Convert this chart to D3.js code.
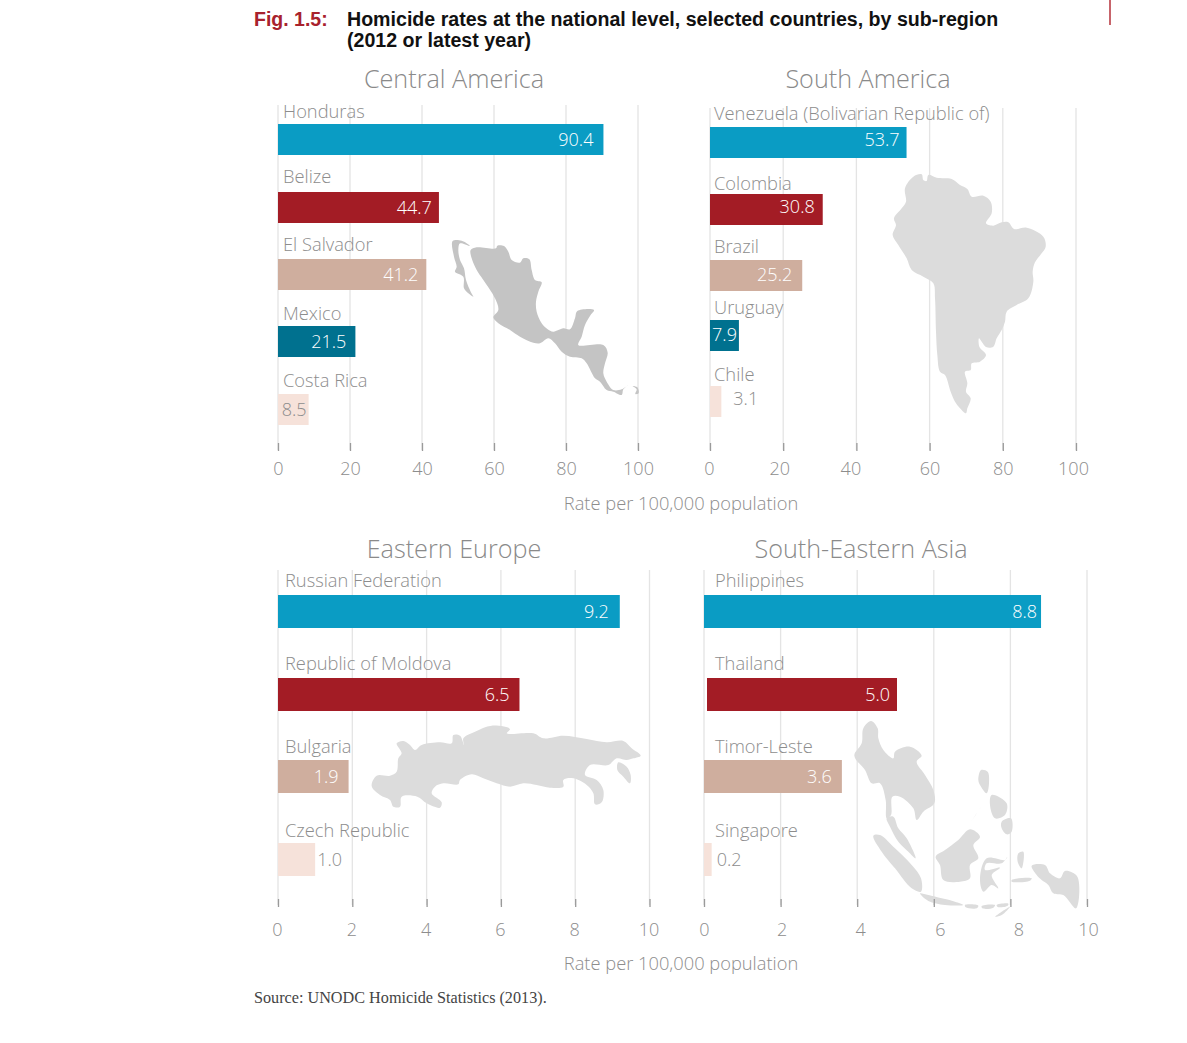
<!DOCTYPE html>
<html><head><meta charset="utf-8">
<script src="https://cdn.jsdelivr.net/npm/d3@7/dist/d3.min.js"></script>
<style>html,body{margin:0;padding:0;background:#fff}svg{display:block}</style>
</head><body><svg id="c" width="1187" height="1043"></svg>
<script>
// ---- data ----
const centralAmericaCountries = ["Honduras","Belize","El Salvador","Mexico","Costa Rica"];
const centralAmericaValues = [90.4,44.7,41.2,21.5,8.5];
const southAmericaCountries = ["Venezuela (Bolivarian Republic of)","Colombia","Brazil","Uruguay","Chile"];
const southAmericaValues = [53.7,30.8,25.2,7.9,3.1];
const easternEuropeCountries = ["Russian Federation","Republic of Moldova","Bulgaria","Czech Republic"];
const easternEuropeValues = [9.2,6.5,1.9,1.0];
const seAsiaCountries = ["Philippines","Thailand","Timor-Leste","Singapore"];
const seAsiaValues = [8.8,5.0,3.6,0.2];
const ticksWide = [0,20,40,60,80,100];
const ticksNarrow = [0,2,4,6,8,10];

// ---- style ----
const BLUE="#0a9cc4",RED="#a31c25",TAN="#cfae9e",TEAL="#00718f",PALE="#f6e2da";
const GREY="#8d8d8d",FONT="'Open Sans',sans-serif";
const svg=d3.select("#c");

// ---- panel layout ----
const panels=[
 {title:"Central America",tx:454,ty:88,names:centralAmericaCountries,vals:centralAmericaValues,ticks:ticksWide,
  range:[278,638],tops:[124,192,259,326,394],h:31,cols:[BLUE,RED,TAN,TEAL,PALE],
  labelUp:[6,9,8,6,7],gap:[-10,-7,-8,-9,-2],valShift:[0,0,0,0,0],labelX:5,valCol:["#fff","#fff","#fff","#fff",GREY],
  grid:[105,450],axisY:443,pad:11,nudge:[0,0,0,0,0,0],mapFill:"#c4c4c4"},
 {title:"South America",tx:868,ty:88,names:southAmericaCountries,vals:southAmericaValues,ticks:ticksWide,
  range:[710,1076],tops:[127,194,260,320,386],h:31,cols:[BLUE,RED,TAN,TEAL,PALE],
  labelUp:[7,4,7,6,5],gap:[-7,-8,-10,-2,12],valShift:[-3,-3,-1,-1,-3],labelX:4,valCol:["#fff","#fff","#fff","#fff",GREY],
  grid:[108,450],axisY:443,pad:11,nudge:[-1,-4,-6,0,0,-3],mapFill:"#dcdcdc"},
 {title:"Eastern Europe",tx:454,ty:558,names:easternEuropeCountries,vals:easternEuropeValues,ticks:ticksNarrow,
  range:[278,649.5],tops:[595,678,760,843],h:33,cols:[BLUE,RED,TAN,PALE],
  labelUp:[8,8,7,6],gap:[-11,-10,-10,2],valShift:[0,0,0,0],labelX:7,valCol:["#fff","#fff","#fff",GREY],
  grid:[570,905],axisY:899,pad:16,nudge:[-1,-1,-1,-1,-1,-1],mapFill:"#dcdcdc"},
 {title:"South-Eastern Asia",tx:861,ty:558,names:seAsiaCountries,vals:seAsiaValues,ticks:ticksNarrow,
  range:[704,1087],tops:[595,678,760,843],h:33,cols:[BLUE,RED,TAN,PALE],
  labelUp:[8,8,7,6],gap:[-4,-5.5,-10,5],valShift:[0,0,0,0],labelX:11,valCol:["#fff","#fff","#fff",GREY],
  startInset:[0,3,0,0],endPad:[0,1.5,0,0],
  grid:[570,905],axisY:899,pad:16,nudge:[0,1,3,6,8,1],mapFill:"#dcdcdc"}
];

// ---- decorative map outlines (origin + scale) ----
const maps=[
 {panel:0,o:[440,230],shapes:[
  [[92,60],[110,52],[168,55],[172,47],[192,48],[205,65],[215,90],[240,98],[250,85],[268,88],[275,120],[285,150],[305,157],[295,185],[288,215],[290,245],[305,280],[322,297],[340,305],[370,295],[390,298],[405,265],[412,243],[462,240],[450,258],[435,285],[425,320],[415,345],[490,345],[503,368],[495,400],[490,430],[500,455],[520,480],[545,478],[565,465],[550,478],[545,495],[520,485],[500,480],[480,455],[465,445],[440,400],[425,385],[390,380],[365,365],[345,340],[325,325],[300,340],[280,338],[240,320],[210,300],[175,280],[160,262],[175,240],[165,205],[130,150],[110,120],[95,85]],
  [[38,33],[65,32],[90,48],[60,40],[55,60],[60,90],[72,115],[78,150],[92,185],[100,200],[85,190],[72,175],[70,140],[45,125],[50,110],[42,80]],
  [[578,468],[592,472],[596,490],[586,492],[590,478]]]},
 {panel:1,o:[880,165],shapes:[
  [[100,35],[125,28],[130,45],[140,48],[145,30],[170,38],[215,42],[240,60],[262,72],[275,95],[310,92],[332,110],[335,145],[318,175],[340,182],[365,172],[385,172],[402,192],[440,188],[490,215],[497,245],[485,265],[465,292],[458,320],[460,350],[445,400],[410,420],[380,440],[375,470],[365,495],[350,520],[340,545],[320,547],[305,530],[297,520],[298,545],[318,570],[300,590],[275,595],[272,615],[255,620],[262,655],[258,680],[272,700],[262,730],[258,745],[240,730],[225,710],[212,680],[195,630],[180,620],[172,570],[168,500],[165,400],[160,355],[130,335],[95,315],[80,280],[55,240],[38,210],[48,180],[42,160],[65,130],[78,110],[75,70]]]},
 {panel:2,o:[360,715],shapes:[
  [[35,213],[50,182],[90,182],[110,170],[115,130],[125,115],[110,85],[130,78],[150,90],[165,105],[185,90],[240,82],[275,85],[280,60],[300,62],[312,90],[310,70],[345,50],[395,32],[450,42],[440,55],[520,55],[550,70],[610,62],[680,72],[740,82],[790,78],[815,100],[842,122],[820,130],[800,135],[770,130],[745,150],[690,150],[675,180],[710,195],[730,225],[725,262],[705,268],[700,235],[680,210],[640,190],[610,195],[610,215],[570,218],[530,210],[490,205],[450,215],[410,205],[370,190],[335,178],[300,195],[295,208],[250,205],[225,215],[215,235],[245,262],[240,278],[200,265],[172,245],[125,245],[120,275],[100,275],[90,255],[60,240]],
  [[775,142],[800,155],[812,180],[810,205],[790,185],[772,165]]]},
 {panel:3,o:[845,715],shapes:[
  [[28,122],[50,85],[55,40],[78,18],[98,40],[100,70],[115,105],[145,130],[150,110],[195,95],[230,122],[215,140],[240,180],[265,225],[268,265],[235,290],[215,315],[205,280],[165,245],[142,245],[138,300],[125,310],[122,255],[105,205],[80,205],[60,165]],
  [[125,310],[145,305],[160,340],[185,370],[212,430],[190,410],[160,380],[135,335]],
  [[85,362],[105,360],[150,400],[200,450],[228,490],[228,530],[200,520],[150,460],[110,410]],
  [[225,535],[250,540],[290,550],[330,560],[355,570],[300,570],[250,558]],
  [[360,570],[400,572],[395,580],[362,577]],[[410,573],[450,570],[445,578],[412,580]],[[455,570],[490,566],[488,572],[458,576]],
  [[272,425],[300,405],[340,375],[375,343],[405,365],[385,390],[400,430],[375,450],[375,490],[345,500],[295,495],[285,450]],
  [[425,430],[480,435],[487,425],[470,445],[425,445],[420,465],[465,458],[440,480],[460,520],[440,510],[415,530],[405,490]],
  [[408,165],[428,170],[432,205],[425,235],[405,210],[400,195]],
  [[470,320],[498,310],[500,350],[485,358],[470,340]],
  [[440,240],[485,265],[480,300],[450,310],[435,270]],
  [[412,270],[380,318],[385,310]],
  [[560,452],[600,450],[615,475],[645,490],[660,468],[697,485],[693,580],[655,540],[625,535],[610,510],[590,495],[575,480]],
  [[520,415],[535,410],[530,460],[518,440]],
  [[500,495],[560,490],[555,497],[500,500]],
  [[450,605],[495,575],[470,600]]]}
];

const outline=d3.line().curve(d3.curveCatmullRomClosed.alpha(0.5));

panels.forEach((p,pi)=>{
  const g=svg.append("g");
  const x=d3.scaleLinear().domain([p.ticks[0],p.ticks[p.ticks.length-1]]).range(p.range);
  const y=d3.scaleOrdinal().domain(p.names).range(p.tops);
  const inset=i=>p.startInset?p.startInset[i]:0, endP=i=>p.endPad?p.endPad[i]:0;

  // gridlines
  g.selectAll("line.grid").data(p.ticks).join("line").attr("class","grid")
    .attr("x1",d=>x(d)).attr("x2",d=>x(d)).attr("y1",p.grid[0]).attr("y2",p.grid[1])
    .attr("stroke","#e4e4e4").attr("stroke-width",1.3);

  // map silhouette
  maps.filter(m=>m.panel===pi).forEach(m=>{
    m.shapes.forEach(s=>{
      g.append("path")
       .attr("d",outline(s.map(q=>[m.o[0]+q[0]/3,m.o[1]+q[1]/3])))
       .attr("fill",p.mapFill);
    });
  });

  // bars
  g.selectAll("rect").data(p.names).join("rect")
    .attr("x",(d,i)=>x(0)+inset(i)).attr("y",d=>y(d))
    .attr("width",(d,i)=>x(p.vals[i])-x(0)-inset(i)+endP(i)).attr("height",p.h)
    .attr("fill",(d,i)=>p.cols[i]);

  // category labels
  g.selectAll("text.cat").data(p.names).join("text").attr("class","cat")
    .attr("x",x(0)+p.labelX).attr("y",(d,i)=>y(d)-p.labelUp[i])
    .attr("font-family",FONT).attr("font-weight",300).attr("font-size",18.3).attr("fill",GREY)
    .text(d=>d);

  // value labels
  g.selectAll("text.val").data(p.names).join("text").attr("class","val")
    .attr("x",(d,i)=>x(p.vals[i])+p.gap[i]).attr("y",(d,i)=>y(d)+p.h/2+6.5+p.valShift[i])
    .attr("text-anchor",(d,i)=>p.gap[i]<0?"end":"start")
    .attr("font-family",FONT).attr("font-weight",300).attr("font-size",18)
    .attr("fill",(d,i)=>p.valCol[i])
    .text((d,i)=>p.vals[i].toFixed(1));

  // axis
  const ax=g.append("g").attr("transform",`translate(0,${p.axisY})`)
    .call(d3.axisBottom(x).tickValues(p.ticks).tickSize(8).tickPadding(p.pad).tickFormat(d3.format("d")));
  ax.select(".domain").remove();
  ax.selectAll("line").attr("stroke","#9a9a9a").attr("stroke-width",1.3);
  ax.selectAll("text").attr("font-family",FONT).attr("font-weight",300).attr("font-size",18)
    .attr("fill",GREY).attr("dx",(d,i)=>p.nudge[i]);

  // panel title
  svg.append("text").attr("x",p.tx).attr("y",p.ty).attr("text-anchor","middle")
    .attr("font-family",FONT).attr("font-weight",300).attr("font-size",25.2).attr("fill","#8a8a8a").text(p.title);
});

// axis captions
[510,970].forEach(yy=>svg.append("text").attr("x",681).attr("y",yy).attr("text-anchor","middle")
  .attr("font-family",FONT).attr("font-weight",300).attr("font-size",18.3).attr("fill",GREY)
  .text("Rate per 100,000 population"));

// heading
const HF="'Liberation Sans',Arial,sans-serif";
svg.append("text").attr("x",254).attr("y",26).attr("font-family",HF).attr("font-weight",700)
  .attr("font-size",19.5).attr("fill","#a8222d").text("Fig. 1.5:");
svg.append("text").attr("x",347).attr("y",26).attr("font-family",HF).attr("font-weight",700)
  .attr("font-size",19.6).attr("fill","#111").text("Homicide rates at the national level, selected countries, by sub-region");
svg.append("text").attr("x",347).attr("y",47).attr("font-family",HF).attr("font-weight",700)
  .attr("font-size",19.6).attr("fill","#111").text("(2012 or latest year)");

// source
svg.append("text").attr("x",254).attr("y",1003).attr("font-family","'Liberation Serif',serif")
  .attr("font-size",16.2).attr("fill","#444").text("Source: UNODC Homicide Statistics (2013).");

// page-edge rule
svg.append("line").attr("x1",1110).attr("x2",1110).attr("y1",0).attr("y2",25)
  .attr("stroke","#b5303a").attr("stroke-width",1.5);
</script></body></html>
